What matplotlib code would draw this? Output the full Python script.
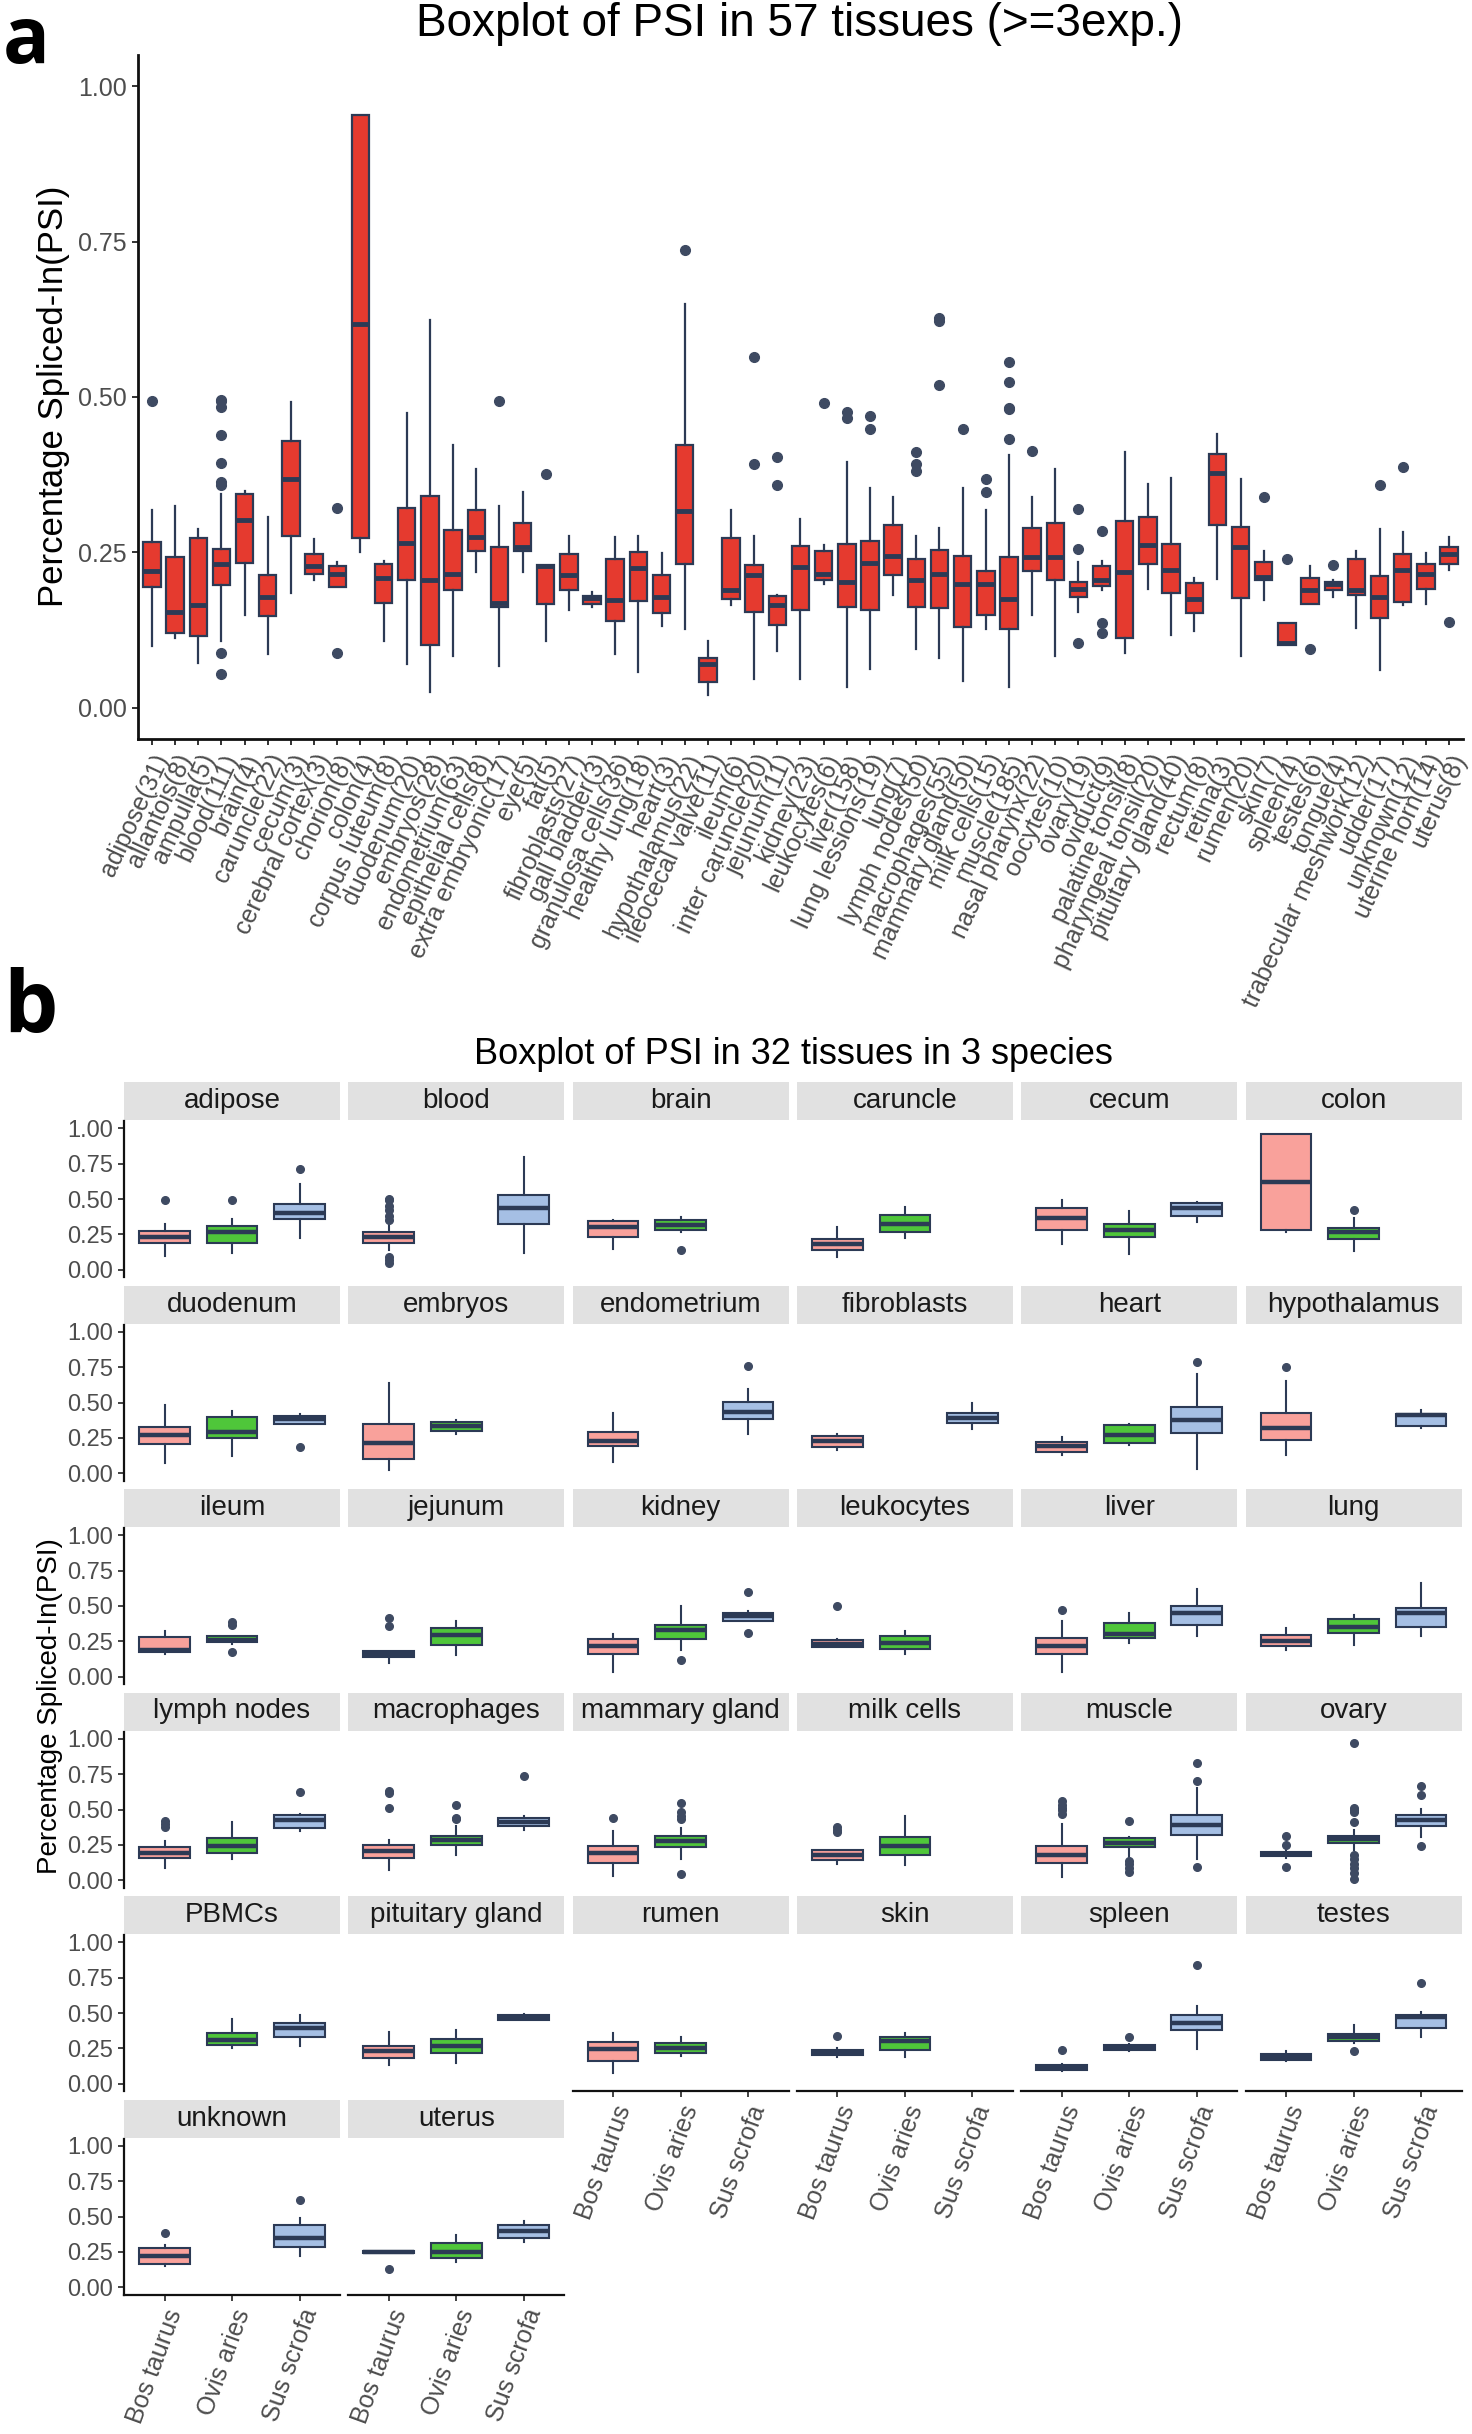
import matplotlib
matplotlib.use('Agg')
import matplotlib.pyplot as plt

W, H = 1472, 2434
plt.rcParams['font.family'] = ['Liberation Sans', 'DejaVu Sans']

# ---------------- Panel a data ----------------
tissues_a = ["adipose(31)", "allantois(8)", "ampulla(5)", "blood(111)", "brain(4)", "caruncle(22)",
             "cecum(3)", "cerebral cortex(3)", "chorion(8)", "colon(4)", "corpus luteum(8)",
             "duodenum(20)", "embryos(28)", "endometrium(63)", "epithelial cells(8)",
             "extra embryonic(17)", "eye(5)", "fat(5)", "fibroblasts(27)", "gall bladder(3)",
             "granulosa cells(36)", "healthy lung(18)", "heart(3)", "hypothalamus(22)",
             "ileocecal valve(11)", "ileum(6)", "inter caruncle(20)", "jejunum(11)", "kidney(23)",
             "leukocytes(6)", "liver(158)", "lung lessions(19)", "lung(7)", "lymph nodes(50)",
             "macrophages(55)", "mammary gland(50)", "milk cells(15)", "muscle(185)",
             "nasal pharynx(22)", "oocytes(10)", "ovary(19)", "oviduct(9)", "palatine tonsil(8)",
             "pharyngeal tonsil(20)", "pituitary gland(40)", "rectum(8)", "retina(3)", "rumen(20)",
             "skin(7)", "spleen(4)", "testes(6)", "tongue(4)", "trabecular meshwork(12)",
             "udder(17)", "unknown(12)", "uterine horn(14)", "uterus(8)"]
lo_a = [.100, .112, .072, .108, .150, .087, .184, .206, .195, .250, .108, .070, .025, .083, .219,
        .067, .219, .108, .158, .163, .087, .057, .131, .127, .021, .165, .046, .091, .046, .199,
        .034, .062, .181, .095, .081, .043, .127, .034, .149, .083, .154, .190, .089, .192, .118,
        .124, .207, .083, .173, .101, .167, .178, .129, .061, .165, .167, .222]
q1_a = [.195, .121, .116, .197, .233, .148, .276, .216, .195, .273, .168, .206, .101, .190, .253,
        .162, .253, .167, .190, .167, .140, .172, .153, .231, .042, .175, .154, .134, .158, .205,
        .163, .158, .214, .162, .161, .130, .149, .127, .220, .205, .178, .196, .112, .231, .184,
        .152, .294, .176, .205, .101, .167, .190, .181, .144, .171, .191, .231]
med_a = [.220, .154, .165, .231, .302, .178, .368, .228, .216, .618, .209, .265, .206, .215, .275,
         .168, .258, .228, .214, .176, .173, .225, .178, .317, .070, .190, .214, .165, .226, .215,
         .203, .233, .245, .206, .215, .199, .199, .175, .243, .243, .191, .205, .219, .262, .222,
         .175, .378, .258, .211, .104, .190, .199, .190, .178, .222, .216, .247]
q3_a = [.267, .243, .273, .256, .344, .214, .430, .248, .229, .954, .231, .322, .341, .286, .319,
        .258, .298, .230, .247, .180, .239, .250, .214, .423, .081, .273, .230, .180, .260, .252,
        .263, .269, .294, .239, .254, .244, .220, .243, .290, .297, .203, .228, .301, .307, .263,
        .201, .408, .291, .234, .137, .209, .203, .239, .212, .247, .231, .258]
hi_a = [.319, .325, .287, .344, .349, .307, .492, .271, .234, .954, .237, .474, .624, .423, .385,
        .324, .347, .230, .277, .186, .275, .277, .249, .650, .108, .319, .277, .182, .303, .262,
        .396, .353, .339, .277, .290, .353, .319, .406, .339, .385, .234, .237, .411, .360, .370,
        .209, .440, .368, .253, .137, .229, .205, .253, .287, .283, .249, .275]
out_a = [[.493], [], [], [.493, .495, .484, .439, .394, .363, .359, .089, .055], [], [],
         [], [], [.321, .088], [], [], [], [], [], [],
         [.493], [], [.376], [], [], [], [], [], [.737],
         [], [], [.564, .392], [.404, .358], [], [.491],
         [.476, .467], [.470, .449], [], [.412, .392, .381], [.627, .622, .520], [.448],
         [.368, .347], [.556, .524, .482, .480, .432], [.413], [], [.320, .256, .105],
         [.285, .137, .121], [], [], [], [], [], [], [.339], [.239], [.095], [.230], [],
         [.359], [.387], [], [.138]]

# ---------------- Panel b data ----------------
tissues_b = ["adipose", "blood", "brain", "caruncle", "cecum", "colon", "duodenum", "embryos",
             "endometrium", "fibroblasts", "heart", "hypothalamus", "ileum", "jejunum", "kidney",
             "leukocytes", "liver", "lung", "lymph nodes", "macrophages", "mammary gland",
             "milk cells", "muscle", "ovary", "PBMCs", "pituitary gland", "rumen", "skin",
             "spleen", "testes", "unknown", "uterus"]
species = ["Bos taurus", "Ovis aries", "Sus scrofa"]
species_colors = ["#F9A19B", "#4FC63A", "#A5BFE4"]

# each entry: (whislo, q1, med, q3, whishi) or None when species absent
bos_box = [(.101, .193, .235, .275, .325), (.141, .193, .235, .264, .318), (.148, .235, .306, .348, .353),
           (.089, .141, .184, .219, .301), (.184, .278, .369, .435, .494), (.264, .278, .619, .960, .960),
           (.076, .207, .269, .329, .481), (.024, .102, .214, .345, .636), (.083, .190, .226, .293, .429),
           (.162, .186, .226, .262, .279), (.131, .150, .190, .221, .255), (.131, .233, .321, .429, .655),
           (.165, .177, .190, .278, .324), (.096, .139, .160, .182, .182), (.038, .165, .220, .266, .304),
           (.210, .210, .233, .258, .266), (.038, .165, .215, .271, .392), (.190, .215, .253, .296, .347),
           (.084, .157, .195, .233, .278), (.076, .157, .208, .248, .286), (.033, .122, .190, .241, .349),
           (.119, .144, .182, .215, .215), (.025, .122, .177, .241, .400), (.157, .170, .185, .197, .228),
           None, (.130, .183, .229, .267, .369), (.080, .160, .245, .293, .361), (.190, .204, .221, .237, .250),
           (.090, .100, .115, .135, .140), (.160, .170, .190, .209, .229), (.150, .165, .220, .275, .300),
           (.245, .245, .250, .255, .260)]
bos_out = [[.494], [.50, .49, .45, .42, .38, .35, .09, .07, .05], [], [], [], [], [], [], [], [], [],
           [.75], [], [.418, .362], [], [.499], [.473], [], [.418, .397, .38], [.633, .613, .514],
           [.443], [.38, .354, .342], [.562, .532, .51, .494, .47], [.316, .248, .096], [], [], [],
           [.338], [.242], [], [.385], [.13]]

ovis_box = [(.118, .193, .264, .311, .360), None, (.266, .278, .318, .353, .372),
            (.224, .266, .325, .384, .447), (.111, .231, .278, .325, .416), (.134, .219, .266, .299, .365),
            (.126, .250, .293, .398, .440), (.281, .298, .333, .362, .376), None, None,
            (.202, .214, .274, .340, .350), None, (.233, .246, .261, .286, .291),
            (.152, .228, .296, .342, .392), (.190, .266, .329, .367, .499), (.165, .195, .241, .286, .324),
            (.241, .271, .304, .380, .448), (.228, .311, .354, .405, .438), (.152, .190, .241, .299, .410),
            (.177, .248, .284, .311, .385), (.152, .233, .278, .311, .367), (.106, .177, .241, .309, .451),
            (.152, .233, .266, .299, .309), (.215, .266, .291, .311, .354), (.254, .275, .313, .356, .458),
            (.150, .216, .267, .318, .382), (.200, .220, .255, .285, .331), (.191, .237, .300, .331, .361),
            (.235, .242, .254, .275, .280), (.290, .300, .331, .351, .412), None,
            (.180, .210, .250, .310, .370)]
ovis_out = [[.494], [], [.141], [], [], [.419], [], [], [], [], [], [], [.385, .367, .177], [],
            [.119], [], [], [], [], [.532, .443, .43], [.544, .481, .456, .435, .046], [],
            [.418, .139, .114, .089, .056],
            [.967, .514, .494, .481, .413, .182, .152, .114, .089, .051, .013], [], [], [], [],
            [.331], [.229], [], []]

sus_box = [(.224, .360, .400, .466, .607), (.118, .325, .440, .529, .793), None, None,
           (.341, .381, .440, .475, .478), None, (.350, .350, .381, .405, .417), None,
           (.279, .381, .436, .505, .595), (.314, .352, .393, .429, .493), (.031, .286, .374, .469, .698),
           (.321, .333, .410, .421, .448), None, None, (.392, .392, .430, .448, .468), None,
           (.291, .367, .448, .501, .620), (.291, .354, .448, .489, .663), (.349, .372, .423, .463, .470),
           (.354, .387, .413, .443, .456), None, None, (.152, .322, .392, .461, .651),
           (.304, .385, .423, .461, .501), (.267, .331, .394, .427, .483), (.450, .450, .466, .483, .491),
           None, None, (.249, .377, .427, .483, .547), (.331, .394, .471, .489, .509),
           (.220, .285, .350, .440, .490), (.320, .350, .400, .440, .470)]
sus_out = [[.713], [], [], [], [], [], [.183], [], [.755], [], [.786], [], [], [], [.6, .311], [],
           [], [], [.625], [.739], [], [], [.828, .704, .096], [.666, .603, .246], [], [], [], [],
           [.84], [.712], [.615], []]

# ---------------- styling ----------------
RED = '#E53A2F'
NAVY = '#2C3A55'
DOT = '#3E4A62'
TICKC = '#4D4D4D'

fig = plt.figure(figsize=(W / 100, H / 100), dpi=100)


def ax_px(l, t, w, h, **kw):
    return fig.add_axes([l / W, 1 - (t + h) / H, w / W, h / H], **kw)


def make_stat(lo, q1, med, q3, hi, fl):
    return dict(whislo=lo, q1=q1, med=med, q3=q3, whishi=hi, fliers=fl)


# ---------------- Panel a ----------------
axa = ax_px(138, 55, 1325, 684)
stats_a = [make_stat(lo_a[i], q1_a[i], med_a[i], q3_a[i], hi_a[i], out_a[i]) for i in range(len(tissues_a))]
pos_a = list(range(1, len(tissues_a) + 1))
axa.bxp(stats_a, positions=pos_a, widths=0.75, patch_artist=True, showcaps=False, manage_ticks=False,
        boxprops=dict(facecolor=RED, edgecolor=NAVY, linewidth=1.6),
        medianprops=dict(color=NAVY, linewidth=3.5, solid_capstyle='butt'),
        whiskerprops=dict(color=NAVY, linewidth=1.6),
        flierprops=dict(marker='o', markerfacecolor=DOT, markeredgecolor=DOT, markersize=7))
axa.set_xlim(0.4, len(tissues_a) + 0.6)
axa.set_ylim(-0.05, 1.05)
axa.set_yticks([0, 0.25, 0.5, 0.75, 1.0])
axa.set_yticklabels(['0.00', '0.25', '0.50', '0.75', '1.00'], fontsize=18, color=TICKC)
axa.set_xticks(pos_a)
axa.set_xticklabels(tissues_a, rotation=65, ha='right', va='top', rotation_mode='anchor',
                    fontsize=18, color=TICKC)
axa.tick_params(axis='both', length=4, width=1.3, color='#222222', pad=4)
for s in ['top', 'right']:
    axa.spines[s].set_visible(False)
for s in ['left', 'bottom']:
    axa.spines[s].set_linewidth(2)
    axa.spines[s].set_color('#111111')

fig.text(800 / W, 1 - 24 / H, "Boxplot of PSI in 57 tissues (>=3exp.)", fontsize=33,
         ha='center', va='center', color='black')
fig.text(54 / W, 1 - 396 / H, "Percentage Spliced-In(PSI)", fontsize=25, rotation=90,
         ha='center', va='center', color='black')
fig.text(0.002, 1 - 3 / H, "a", fontsize=56, fontweight='bold', ha='left', va='top',
         family=['Open Sans', 'Liberation Sans'])

# ---------------- Panel b ----------------
fig.text(0.002, 1 - 1033 / H, "b", fontsize=62, fontweight='bold', ha='left', va='baseline',
         family=['Open Sans', 'Liberation Sans'])
fig.text(793 / W, 1 - 1054 / H, "Boxplot of PSI in 32 tissues in 3 species", fontsize=26,
         ha='center', va='center', color='black')
fig.text(50 / W, 1 - 1706 / H, "Percentage Spliced-In(PSI)", fontsize=20, rotation=90,
         ha='center', va='center', color='black')

ncol = 6
col_l0, col_pitch, col_w = 124, 224.3, 216
row_t0, row_pitch, strip_h, plot_h = 1082, 203.5, 38, 156
n = len(tissues_b)
all_boxes = [bos_box, ovis_box, sus_box]
all_out = [bos_out, ovis_out, sus_out]
for k, tname in enumerate(tissues_b):
    r, c = divmod(k, ncol)
    left = col_l0 + c * col_pitch
    top = row_t0 + r * row_pitch
    sax = ax_px(left, top, col_w, strip_h)
    sax.set_facecolor('#E1E1E1')
    sax.set_xticks([]); sax.set_yticks([])
    for s in sax.spines.values():
        s.set_visible(False)
    sax.text(0.5, 0.5, tname, ha='center', va='center', fontsize=20, color='#1A1A1A',
             transform=sax.transAxes)

    ax = ax_px(left, top + strip_h + 1, col_w, plot_h)
    for j in range(3):
        b = all_boxes[j][k]
        if b is None:
            continue
        st = [make_stat(b[0], b[1], b[2], b[3], b[4], all_out[j][k])]
        ax.bxp(st, positions=[j + 1], widths=0.75, patch_artist=True, showcaps=False, manage_ticks=False,
               boxprops=dict(facecolor=species_colors[j], edgecolor=NAVY, linewidth=1.5),
               medianprops=dict(color=NAVY, linewidth=3.2, solid_capstyle='butt'),
               whiskerprops=dict(color=NAVY, linewidth=1.5),
               flierprops=dict(marker='o', markerfacecolor=DOT, markeredgecolor=DOT, markersize=5.5))
    ax.set_xlim(0.4, 3.6)
    ax.set_ylim(-0.05, 1.05)
    ax.set_facecolor('none')
    for s in ['top', 'right']:
        ax.spines[s].set_visible(False)
    if c == 0:
        ax.set_yticks([0, 0.25, 0.5, 0.75, 1.0])
        ax.set_yticklabels(['0.00', '0.25', '0.50', '0.75', '1.00'], fontsize=17, color=TICKC)
        ax.spines['left'].set_linewidth(1.6)
        ax.spines['left'].set_color('#111111')
    else:
        ax.set_yticks([])
        ax.spines['left'].set_visible(False)
    if k + ncol >= n:
        ax.set_xticks([1, 2, 3])
        ax.set_xticklabels(species, rotation=70, ha='right', va='top', rotation_mode='anchor',
                           fontsize=18, color=TICKC)
        ax.spines['bottom'].set_linewidth(1.6)
        ax.spines['bottom'].set_color('#111111')
    else:
        ax.set_xticks([])
        ax.spines['bottom'].set_visible(False)
    ax.tick_params(axis='both', length=4, width=1.2, color='#222222', pad=4)

fig.savefig('out.png', dpi=100)
